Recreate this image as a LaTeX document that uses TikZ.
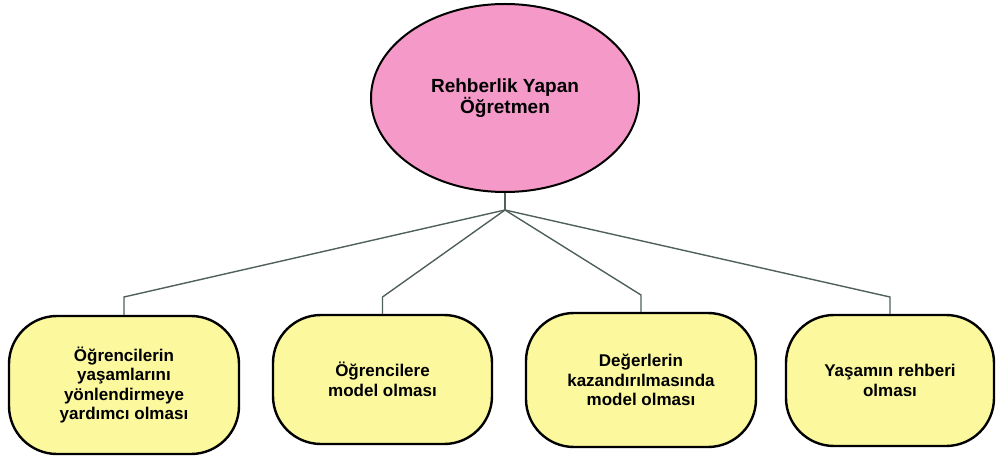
\documentclass[tikz,border=0pt]{standalone}
\usepackage{fontspec}
\setmainfont{Liberation Sans}
\usetikzlibrary{shapes.geometric}
\definecolor{rootpink}{HTML}{F599C9}
\definecolor{leafyellow}{HTML}{FBF89E}
\definecolor{linkgray}{HTML}{50605B}
\tikzset{
  rootnode/.style={ellipse, draw=black, line width=2pt, fill=rootpink,
    minimum width=268pt, minimum height=188pt, inner sep=0pt,
    align=center, font=\fontsize{19pt}{21pt}\selectfont\bfseries},
  leafbox/.style={rectangle, rounded corners=48pt, draw=black, line width=2.4pt,
    fill=leafyellow, inner sep=0pt, align=center,
    font=\fontsize{17pt}{19.5pt}\selectfont\bfseries},
  link/.style={draw=linkgray, line width=1.4pt}
}
\begin{document}
\begin{tikzpicture}[x=1pt, y=-1pt]
  \useasboundingbox (0,0) rectangle (996,457);

  % central concept
  \node[rootnode] (root) at (505,98) {Rehberlik Yapan\\Öğretmen};

  % four supporting roles
  \node[leafbox, minimum width=230pt, minimum height=138pt] (b1) at (124,385)
    {Öğrencilerin\\yaşamlarını\\yönlendirmeye\\yardımcı olması};
  \node[leafbox, minimum width=219pt, minimum height=129pt] (b2) at (382.5,379.5)
    {Öğrencilere\\model olması};
  \node[leafbox, minimum width=230pt, minimum height=134pt] (b3) at (641,380)
    {Değerlerin\\kazandırılmasında\\model olması};
  \node[leafbox, minimum width=208pt, minimum height=131pt] (b4) at (890,380.5)
    {Yaşamın rehberi\\olması};

  % branching point and elbows of the connectors
  \coordinate (hub) at (505,210);
  \coordinate (k1) at (124,297);
  \coordinate (k2) at (382.5,297);
  \coordinate (k3) at (641,295);
  \coordinate (k4) at (890,297);

  \draw[link] (root.south) -- (hub);
  \draw[link] (hub) -- (k1) -- (b1.north);
  \draw[link] (hub) -- (k2) -- (b2.north);
  \draw[link] (hub) -- (k3) -- (b3.north);
  \draw[link] (hub) -- (k4) -- (b4.north);
\end{tikzpicture}
\end{document}
